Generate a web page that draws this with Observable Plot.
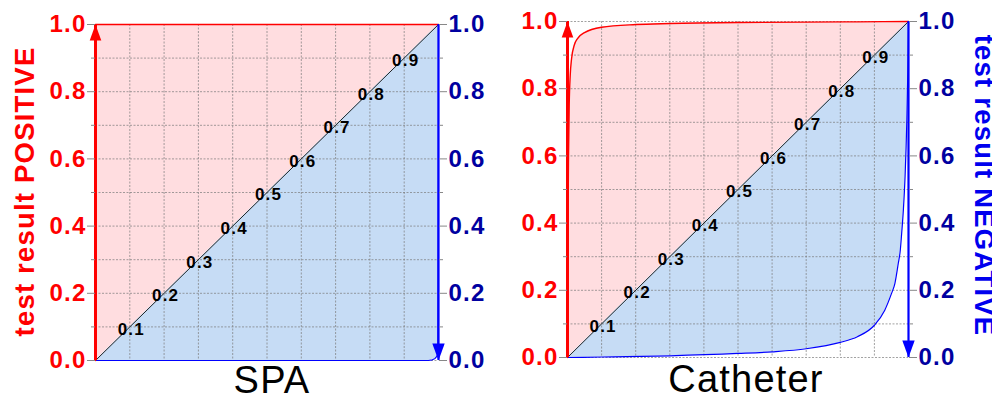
<!DOCTYPE html>
<html><head><meta charset="utf-8">
<script src="https://cdn.jsdelivr.net/npm/d3@7"></script>
<script src="https://cdn.jsdelivr.net/npm/@observablehq/plot@0.6"></script>
<style>
html,body{margin:0;padding:0;background:#fff;}
#wrap{display:flex;width:992px;height:398px;overflow:hidden;}
#wrap svg{display:block;flex:none;}
#wrap svg text{letter-spacing:1.2px;}
</style></head><body><div id="wrap"></div>
<script>
// ---- data ----
const diagonalX = [0, 1];
const diagLabels = [0.1, 0.2, 0.3, 0.4, 0.5, 0.6, 0.7, 0.8, 0.9];
const yMajor = [0, 0.2, 0.4, 0.6, 0.8, 1.0];
const yMinor = [0.1, 0.3, 0.5, 0.7, 0.9];
const gridXs = [0.1, 0.2, 0.3, 0.4, 0.5, 0.6, 0.7, 0.8, 0.9];
const gridYs = [0, 0.1, 0.2, 0.3, 0.4, 0.5, 0.6, 0.7, 0.8, 0.9, 1.0];

// SPA: post-test probability (positive / negative result)
const spaPosX = [0, 0, 1];
const spaPosY = [0, 1, 1];
const spaNegX = [0, 0.97, 0.982, 0.99, 0.995, 0.998, 1.0];
const spaNegY = [0, 0, 0.002, 0.006, 0.012, 0.022, 1.0];

// Catheter
const cathPosX = [0, 0.0015, 0.003, 0.005, 0.008, 0.012, 0.02, 0.03, 0.05, 0.1, 0.2, 0.3, 0.5, 0.7, 0.85, 1.0];
const cathPosY = [0, 0.40, 0.60, 0.75, 0.84, 0.89, 0.93, 0.95, 0.967, 0.983, 0.991, 0.994, 0.997, 0.998, 0.999, 1.0];
const cathNegX = [0, 0.1, 0.3, 0.5, 0.6, 0.7, 0.8, 0.85, 0.9, 0.93, 0.95, 0.96, 0.97, 0.976, 0.98, 0.985, 0.99, 0.995, 0.998, 1.0];
const cathNegY = [0, 0.0015, 0.005, 0.012, 0.017, 0.026, 0.045, 0.062, 0.096, 0.14, 0.19, 0.22, 0.28, 0.32, 0.37, 0.44, 0.54, 0.70, 0.85, 1.0];

const titles = ["SPA", "Catheter"];
const yLabels = ["test result POSITIVE", "test result NEGATIVE"];
const redArrow = [{x: 0, y: 1}];
const blueArrow = [{x: 1, y: 0}];

// ---- drawing ----
const font = '"Liberation Sans", Arial, Helvetica, sans-serif';
const zip = (xs, ys) => xs.map((x, i) => ({x, y: ys[i]}));
const arrowUp = {draw(ctx) { ctx.moveTo(0, 0); ctx.lineTo(5.8, 16); ctx.lineTo(-5.8, 16); ctx.closePath(); }};
const arrowDown = {draw(ctx) { ctx.moveTo(0, 0); ctx.lineTo(6.2, -17); ctx.lineTo(-6.2, -17); ctx.closePath(); }};

function panel(o) {
  const pos = zip(o.posX, o.posY);
  const neg = zip(o.negX, o.negY);
  const marks = [
    Plot.areaY(pos, {x: "x", y1: d => d.x, y2: "y", fill: "#ffdde0", curve: o.curve}),
    Plot.areaY(neg, {x: "x", y1: "y", y2: d => d.x, fill: "#c6dcf5", curve: o.curve}),
    Plot.ruleX(gridXs, {stroke: "#7a7a7a", strokeOpacity: 0.7, strokeDasharray: "2,1.5"}),
    Plot.ruleY(gridYs, {stroke: "#7a7a7a", strokeOpacity: 0.7, strokeDasharray: "2,1.5"}),
    Plot.line(diagonalX, {x: d => d, y: d => d, stroke: "#222", strokeWidth: 1}),
    Plot.line(neg, {x: "x", y: "y", stroke: "#0000ff", strokeWidth: 1.2, curve: o.curve}),
    Plot.line(pos, {x: "x", y: "y", stroke: "#ff0000", strokeWidth: 1.4, curve: o.curve}),
    Plot.ruleX(redArrow, {x: "x", y1: 0, y2: "y", stroke: "#ff0000", strokeWidth: 3}),
    Plot.ruleX(blueArrow, {x: "x", y1: 1, y2: "y", stroke: "#0000ff", strokeWidth: 2.2}),
    Plot.dot(redArrow, {x: "x", y: "y", symbol: arrowUp, fill: "#ff0000", stroke: "none"}),
    Plot.dot(blueArrow, {x: "x", y: "y", symbol: arrowDown, fill: "#0000ff", stroke: "none"}),
    Plot.text(diagLabels, {x: d => d, y: d => d, text: d => d.toFixed(1), fontSize: 17, fontWeight: "bold", fill: "#000", dx: 1.5, dy: 2.5}),
    Plot.axisY(yMajor, {anchor: "left", tickSize: 8, tickPadding: 1, tickFormat: d => d.toFixed(1), fontSize: 24, fontWeight: "bold", fill: "#ff0000", stroke: "#888", label: null}),
    Plot.axisY(yMinor, {anchor: "left", tickSize: 4, tickFormat: () => "", stroke: "#888", label: null}),
    Plot.axisY(yMajor, {anchor: "right", tickSize: 8, tickPadding: 2, tickFormat: d => d.toFixed(1), fontSize: 24, fontWeight: "bold", fill: "#0000a0", stroke: "#888", label: null}),
    Plot.axisY(yMinor, {anchor: "right", tickSize: 4, tickFormat: () => "", stroke: "#888", label: null}),
    Plot.text([o.title], {frameAnchor: "bottom", textAnchor: "middle", dy: o.titleDy, dx: o.titleDx, lineAnchor: "bottom", fontSize: 38, fill: "#000"})
  ];
  if (o.leftLabel) marks.push(Plot.text([o.leftLabel], {frameAnchor: "left", textAnchor: "middle", rotate: -90, dx: -62, dy: -1, lineAnchor: "bottom", fontSize: 27.5, fontWeight: "bold", fill: "#ff0000"}));
  if (o.rightLabel) marks.push(Plot.text([o.rightLabel], {frameAnchor: "right", textAnchor: "middle", rotate: 90, dx: 66.7, dy: -4, lineAnchor: "bottom", fontSize: 27.5, fontWeight: "bold", fill: "#0000ee"}));
  return Plot.plot({
    width: 496, height: 398,
    marginLeft: o.ml, marginRight: o.mr, marginTop: o.mt, marginBottom: o.mb,
    x: {domain: [0, 1], axis: null},
    y: {domain: [0, 1]},
    style: {fontFamily: font, background: "transparent"},
    marks
  });
}

const wrap = document.getElementById("wrap");
wrap.appendChild(panel({
  title: titles[0], posX: spaPosX, posY: spaPosY, negX: spaNegX, negY: spaNegY,
  curve: "linear", ml: 95, mr: 58, mt: 24, mb: 38, titleDx: 5, titleDy: 32,
  leftLabel: yLabels[0]
}));
wrap.appendChild(panel({
  title: titles[1], posX: cathPosX, posY: cathPosY, negX: cathNegX, negY: cathNegY,
  curve: "monotone-x", ml: 71, mr: 84, mt: 21, mb: 41, titleDx: 8, titleDy: 34,
  rightLabel: yLabels[1]
}));
</script>
</body></html>
